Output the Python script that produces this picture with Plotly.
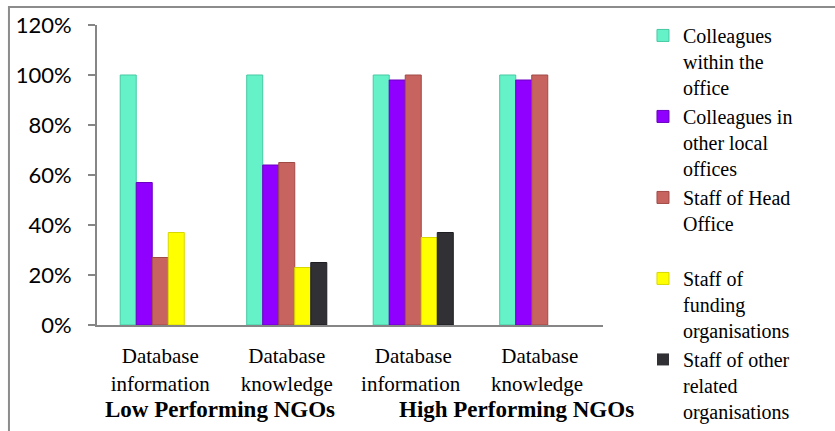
import plotly.graph_objects as go

# Categories along the x axis and the NGO groups they belong to
categories = ["Database<br>information", "Database<br>knowledge",
              "Database<br>information ", "Database<br>knowledge "]
groups = ["Low Performing NGOs", "High Performing NGOs"]

# Share of respondents per information source (fractions)
series_names = [
    "Colleagues<br>within the<br>office",
    "Colleagues in<br>other local<br>offices",
    "Staff of Head<br>Office<br>&nbsp;",
    "Staff of<br>funding<br>organisations",
    "Staff of other<br>related<br>organisations",
]
colleagues_office = [1.00, 1.00, 1.00, 1.00]
colleagues_local = [0.57, 0.64, 0.98, 0.98]
head_office = [0.27, 0.65, 1.00, 1.00]
funding_orgs = [0.37, 0.23, 0.35, 0.00]
related_orgs = [0.00, 0.25, 0.37, 0.00]

series_values = [colleagues_office, colleagues_local, head_office,
                 funding_orgs, related_orgs]
fill_colors = ["#66F2C8", "#8F00FF", "#C8645F", "#FFFF00", "#303035"]
edge_colors = ["#46C9A3", "#6A00C0", "#A04A46", "#D8D800", "#1E1E22"]

fig = go.Figure()
for name, vals, fc, ec in zip(series_names, series_values, fill_colors, edge_colors):
    fig.add_trace(go.Bar(
        x=categories, y=vals, name=name,
        marker=dict(color=fc,
                    line=dict(color=ec, width=[1 if v > 0 else 0 for v in vals])),
    ))

serif = "Liberation Serif, Times New Roman, serif"

fig.update_layout(
    width=835, height=431,
    margin=dict(l=97, r=232, t=25, b=106, autoexpand=False),
    paper_bgcolor="white", plot_bgcolor="white",
    barmode="group", bargap=0.367, bargroupgap=0,
    showlegend=True,
    legend=dict(
        x=1.079, xanchor="left",
        yref="container", y=0.963, yanchor="top",
        maxheight=600,
        font=dict(family=serif, size=20, color="black"),
        valign="top", bgcolor="rgba(0,0,0,0)",
        traceorder="normal",
    ),
    xaxis=dict(
        showline=True, linecolor="#868686", linewidth=2,
        ticks="", showgrid=False,
        ticklabelstandoff=11,
        tickfont=dict(family=serif, size=21, color="black"),
    ),
    yaxis=dict(
        range=[0, 1.2], tickvals=[0, 0.2, 0.4, 0.6, 0.8, 1.0, 1.2],
        tickformat=".0%", showgrid=False, zeroline=False,
        showline=True, linecolor="#868686", linewidth=2,
        ticks="outside", ticklen=7, tickcolor="#868686", tickwidth=2,
        ticklabelstandoff=12,
        tickfont=dict(family="Lato, Liberation Sans, sans-serif", size=22, color="black"),
    ),
)

# Group labels under the category labels
for label, xc in zip(groups, [0.243, 0.830]):
    fig.add_annotation(
        text=f"<b>{label}</b>", x=xc, y=-0.283, xref="paper", yref="paper",
        xanchor="center", yanchor="middle", showarrow=False,
        font=dict(family=serif, size=23, color="black"),
    )

# Outer chart frame
fig.add_shape(type="rect", xref="paper", yref="paper",
              x0=-0.174, x1=1.7, y0=-0.6, y1=1.06,
              line=dict(color="#8C8C8C", width=2), fillcolor="rgba(0,0,0,0)",
              layer="below")

fig.write_html("out.html")
